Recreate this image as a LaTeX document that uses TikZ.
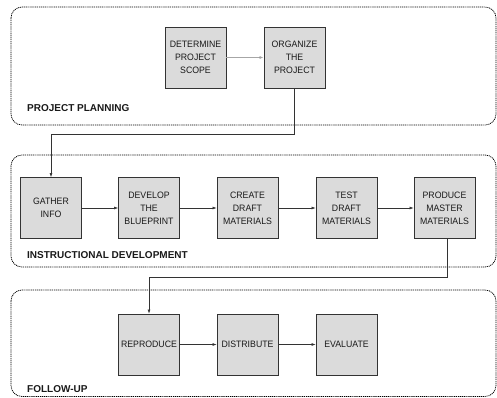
\documentclass[tikz,border=0pt]{standalone}
\usepackage{fontspec}
\setmainfont{Liberation Sans}
\newfontfamily\condfont[FakeStretch=0.94]{Liberation Sans}
\usetikzlibrary{arrows.meta}
\begin{document}
\begin{tikzpicture}[x=1pt,y=-1pt,
  stepbox/.style={draw=black!80,fill=black!14,line width=0.9pt,minimum width=61pt,minimum height=61pt,inner sep=0pt,align=center,text=black!90,font={\condfont\fontsize{9.3}{13}\selectfont}},
  grp/.style={draw=black,dash pattern=on 1.1pt off 0.8pt,line width=0.75pt,rounded corners=11pt},
  lbl/.style={anchor=west,text=black!90,font={\bfseries\fontsize{10}{11}\selectfont},inner sep=0pt},
  conn/.style={draw=black!80,line width=0.6pt,-{Latex[length=4pt,width=3pt]}}]
\useasboundingbox (0,0) rectangle (497,398);
% groups
\draw[grp] (11,7) rectangle (496,125);
\draw[grp] (11,155) rectangle (496,267);
\draw[grp] (11,290) rectangle (496,396.5);
\node[lbl] (l1) at (27,108) {PROJECT PLANNING};
\node[lbl] (l2) at (27,255) {INSTRUCTIONAL DEVELOPMENT};
\node[lbl] (l3) at (27,389) {FOLLOW-UP};
% boxes
\node[stepbox] (det) at (195.5,57.5) {DETERMINE\\PROJECT\\SCOPE};
\node[stepbox] (org) at (294.5,57.5) {ORGANIZE\\THE\\PROJECT};
\node[stepbox] (gat) at (51,208) {GATHER\\INFO};
\node[stepbox] (dev) at (149,208) {DEVELOP\\THE\\BLUEPRINT};
\node[stepbox] (cre) at (247.5,208) {CREATE\\DRAFT\\MATERIALS};
\node[stepbox] (tes) at (346.5,208) {TEST\\DRAFT\\MATERIALS};
\node[stepbox] (pro) at (444.5,208) {PRODUCE\\MASTER\\MATERIALS};
\node[stepbox] (rep) at (149,344.5) {REPRODUCE};
\node[stepbox] (dis) at (247.5,344.5) {DISTRIBUTE};
\node[stepbox] (eva) at (346.5,344.5) {EVALUATE};
% connectors
\coordinate (c1) at (294.5,134);
\coordinate (c2) at (51,134);
\coordinate (c3) at (447,277);
\coordinate (c4) at (149,277);
\draw[conn,draw=black!35,line width=1pt,-{Latex[length=4pt,width=3pt,fill=black!85]}] (det) -- (org);
\draw[conn] (org.south) -- (c1) -- (c2) -- (gat.north);
\draw[conn] (gat) -- (dev);
\draw[conn] (dev) -- (cre);
\draw[conn] (cre) -- (tes);
\draw[conn] (tes) -- (pro);
\draw[conn] (pro.south -| c3) -- (c3) -- (c4) -- (rep.north);
\draw[conn] (rep) -- (dis);
\draw[conn] (dis) -- (eva);
\end{tikzpicture}
\end{document}
